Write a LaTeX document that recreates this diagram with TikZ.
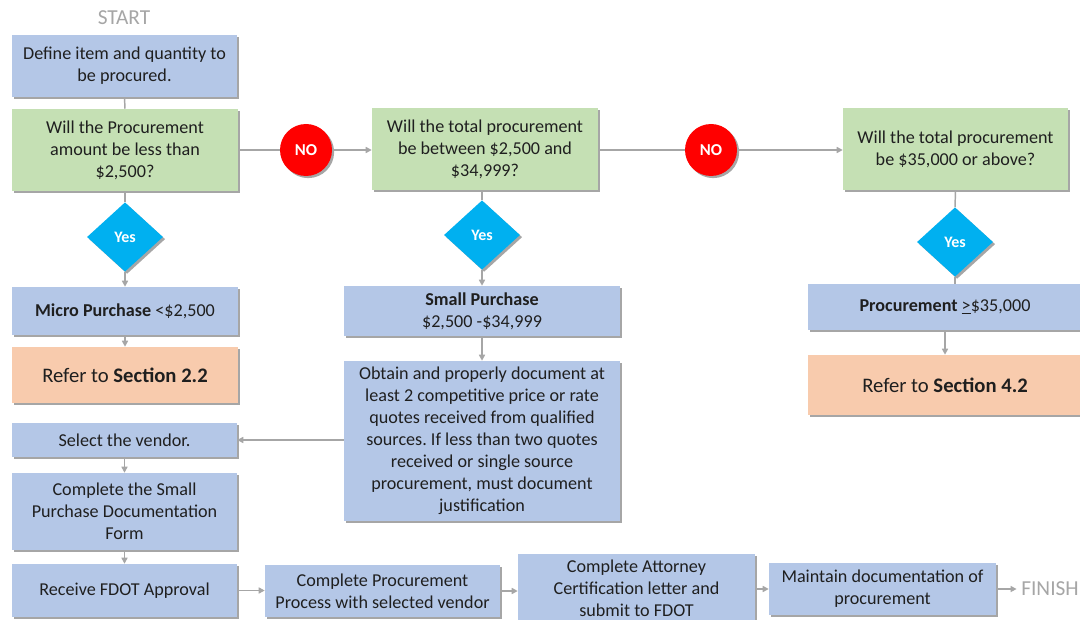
\documentclass[tikz,border=0pt]{standalone}
\usepackage{fontspec}
\setmainfont{Carlito}
\frenchspacing
\usetikzlibrary{shapes.geometric,shadows,arrows.meta}
\definecolor{bluebox}{HTML}{B4C7E7}
\definecolor{greenbox}{HTML}{C5E0B4}
\definecolor{orangebox}{HTML}{F8CBAD}
\definecolor{redc}{HTML}{FF0000}
\definecolor{cyand}{HTML}{00B0F0}
\definecolor{txt}{HTML}{1F1F1F}
\definecolor{conn}{HTML}{A6A6A6}
\definecolor{endtxt}{HTML}{A6A6A6}
\tikzset{
  shad/.style={drop shadow={shadow xshift=1.6pt,shadow yshift=-1.6pt,fill=black,opacity=0.35}},
  bx/.style={shad,rectangle,inner sep=2pt,align=center,text=txt,font=\fontsize{13.6}{16.5}\selectfont},
  bluebx/.style={bx,fill=bluebox},
  greenbx/.style={bx,fill=greenbox},
  orangebx/.style={bx,fill=orangebox,font=\fontsize{15.5}{18}\selectfont},
  nocirc/.style={shad,circle,fill=redc,minimum size=39pt,inner sep=0pt,text=white,font=\bfseries\fontsize{12.5}{14}\selectfont},
  yesdia/.style={shad,diamond,fill=cyand,minimum width=57pt,minimum height=52pt,inner sep=0pt,text=white,font=\bfseries\fontsize{12}{14}\selectfont},
  endlabel/.style={text=endtxt,font=\fontsize{16}{18}\selectfont},
  ln/.style={draw=conn,line width=1.1pt},
  arr/.style={ln,-{Triangle[length=4.5pt,width=4.5pt]}}
}
\begin{document}
\begin{tikzpicture}[x=0.75pt,y=-0.75pt]
\useasboundingbox[fill=white] (0,0) rectangle (1080,620);

% top row
\node[endlabel] (start) at (124,18) {START};
\node[bluebx,minimum width=168.75pt,minimum height=46.5pt] (define) at (124.5,66) {Define item and quantity to\\be procured.};
\node[greenbx,minimum width=169.5pt,minimum height=61.5pt] (q1) at (125,150) {Will the Procurement\\amount be less than\\\$2,500?};
\node[nocirc] (no1) at (306,150) {NO};
\node[greenbx,minimum width=169.5pt,minimum height=61.5pt] (q2) at (485,149) {Will the total procurement\\be between \$2,500 and\\\$34,999?};
\node[nocirc] (no2) at (711,150) {NO};
\node[greenbx,minimum width=168.75pt,minimum height=61.5pt] (q3) at (955.5,149) {Will the total procurement\\be \$35,000 or above?};

% diamonds
\node[yesdia] (d1) at (125,237) {Yes};
\node[yesdia] (d2) at (482,235) {Yes};
\node[yesdia] (d3) at (955,242) {Yes};

% column 1
\node[bluebx,minimum width=169.5pt,minimum height=36pt] (micro) at (125,311) {\textbf{Micro Purchase} <\$2,500};
\node[orangebx,minimum width=169.5pt,minimum height=42pt] (ref22) at (125,375) {Refer to \textbf{Section 2.2}};

% column 2
\node[bluebx,minimum width=207pt,minimum height=37.5pt] (small) at (482,311) {\textbf{Small Purchase}\\\$2,500 -\$34,999};
\node[bluebx,minimum width=207pt,minimum height=120pt] (obtain) at (482,441) {Obtain and properly document at\\least 2 competitive price or rate\\quotes received from qualified\\sources. If less than two quotes\\received or single source\\procurement, must document\\justification};

% column 3
\node[bluebx,minimum width=205.5pt,minimum height=34.5pt] (proc) at (945,307) {\textbf{Procurement} \underline{>}\$35,000};
\node[orangebx,minimum width=205.5pt,minimum height=45pt] (ref42) at (945,385) {Refer to \textbf{Section 4.2}};

% left lower column
\node[bluebx,minimum width=168.75pt,minimum height=25.5pt] (select) at (124.5,440) {Select the vendor.};
\node[bluebx,minimum width=168.75pt,minimum height=57.75pt] (form) at (124.5,511.5) {Complete the Small\\Purchase Documentation\\Form};
\node[bluebx,minimum width=168.75pt,minimum height=39.75pt] (receive) at (124.5,590.5) {Receive FDOT Approval};

% bottom row
\node[bluebx,minimum width=176.25pt,minimum height=39pt] (cpp) at (382.5,591) {Complete Procurement\\Process with selected vendor};
\node[bluebx,minimum width=177.75pt,minimum height=51pt] (att) at (636.5,588) {Complete Attorney\\Certification letter and\\submit to FDOT};
\node[bluebx,minimum width=170.25pt,minimum height=39pt] (maint) at (882.5,589) {Maintain documentation of\\procurement};
\node[endlabel] (finish) at (1050,589) {FINISH};

% connectors
\draw[ln] (define.south) -- (q1.north);
\draw[ln] (q1.east) -- (no1.west);
\draw[arr] (no1.east) -- (q2.west |- no1.east);
\draw[ln] (q2.east |- no2.west) -- (no2.west);
\draw[arr] (no2.east) -- (q3.west |- no2.east);

\draw[ln] (q1.south) -- (d1.north);
\draw[arr] (d1.south) -- (micro.north);
\draw[arr] (micro.south) -- (ref22.north);

\draw[ln] (q2.south -| d2.north) -- (d2.north);
\draw[arr] (d2.south) -- (small.north);
\draw[arr] (small.south) -- (obtain.north);
\draw[arr] (obtain.west |- select.east) -- (select.east);

\draw[ln] (q3.south) -- (d3.north);
\draw[ln] (d3.south) -- (d3.south |- proc.north);
\draw[arr] (proc.south -| ref42.north) -- (ref42.north);

\draw[arr] (select.south) -- (form.north);
\draw[arr] (form.south) -- (receive.north);
\draw[arr] (receive.east) -- (cpp.west |- receive.east);
\draw[arr] (cpp.east) -- (att.west |- cpp.east);
\draw[arr] (att.east |- maint.west) -- (maint.west);
\draw[arr] (maint.east) -- (finish.west);
\end{tikzpicture}
\end{document}
